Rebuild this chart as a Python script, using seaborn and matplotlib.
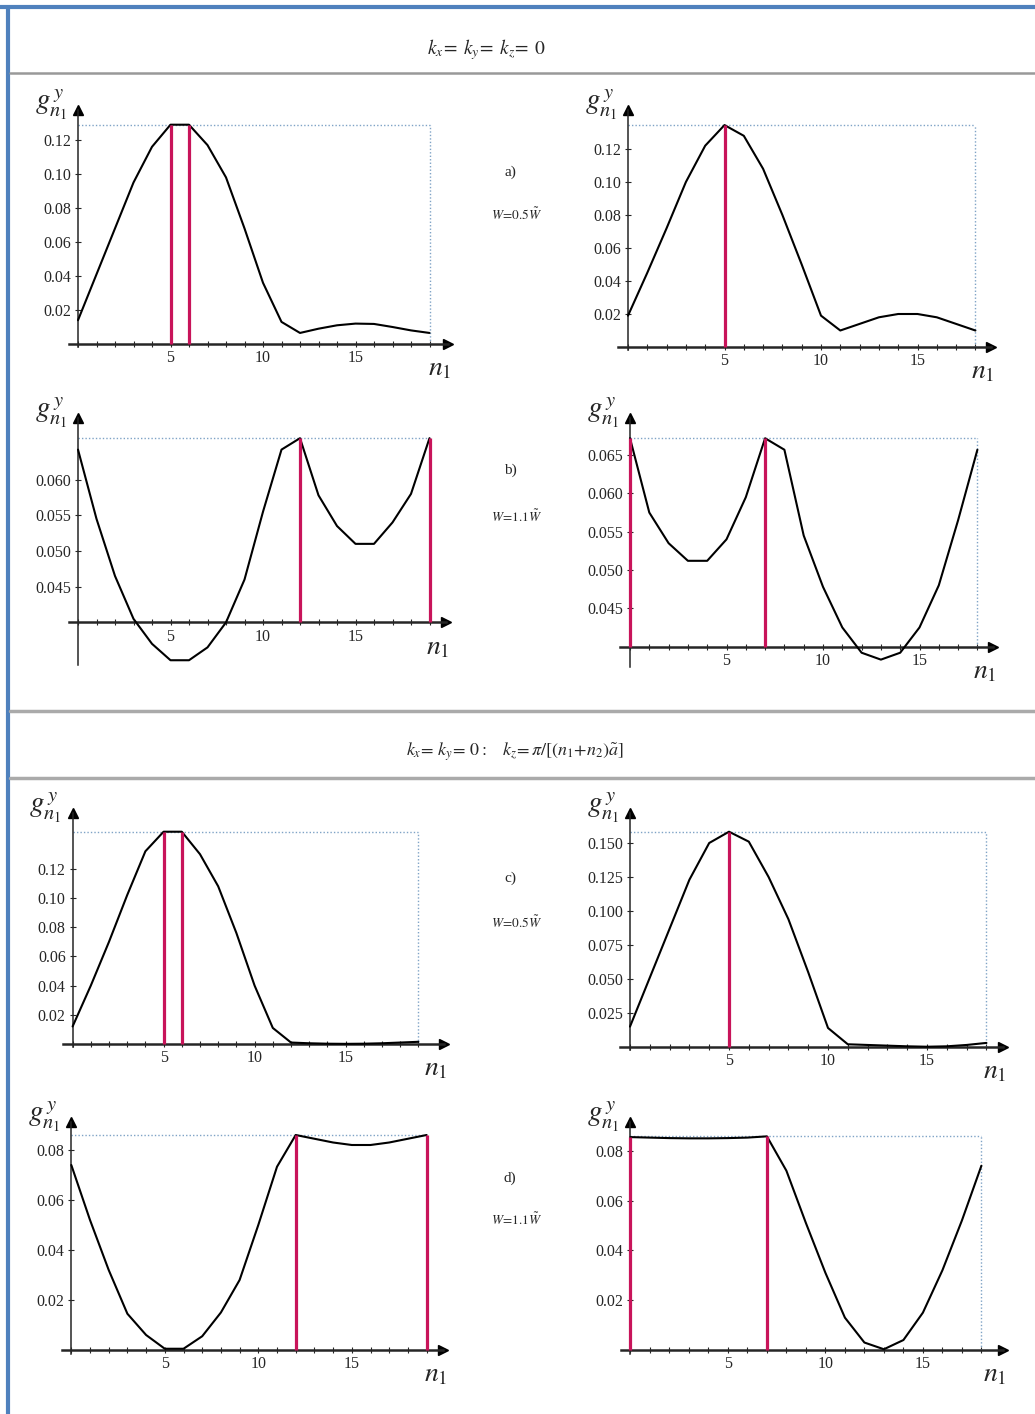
import numpy as np
import pandas as pd
import seaborn as sns
import matplotlib.pyplot as plt
from matplotlib.lines import Line2D

sns.set_style('white')
plt.rcParams['font.family'] = ['Liberation Serif', 'DejaVu Serif']
plt.rcParams['mathtext.fontset'] = 'stix'

W, H = 1035, 1414

# n_1 sites (left panels 0..19, right panels 0..18)
n_left = list(range(20))
n_right = list(range(19))

# k_x = k_y = k_z = 0
g_a_left = [0.014, 0.041, 0.068, 0.095, 0.116, 0.129, 0.129, 0.117, 0.098, 0.068,
            0.036, 0.013, 0.0065, 0.009, 0.011, 0.012, 0.0118, 0.010, 0.008, 0.0065]
g_a_right = [0.019, 0.045, 0.072, 0.100, 0.122, 0.1345, 0.128, 0.108, 0.080, 0.050,
             0.019, 0.010, 0.014, 0.018, 0.020, 0.020, 0.018, 0.014, 0.010]
g_b_left = [0.0642, 0.0545, 0.0465, 0.0405, 0.0370, 0.0347, 0.0347, 0.0365, 0.0400, 0.0460,
            0.0555, 0.0642, 0.0658, 0.0578, 0.0535, 0.0510, 0.0510, 0.0540, 0.0580, 0.0658]
g_b_right = [0.0672, 0.0575, 0.0535, 0.0512, 0.0512, 0.0540, 0.0595, 0.0672, 0.0657, 0.0545,
             0.0478, 0.0425, 0.0392, 0.0383, 0.0392, 0.0425, 0.0480, 0.0565, 0.0657]

# k_x = k_y = 0, k_z = pi/[(n1+n2)a]
g_c_left = [0.012, 0.040, 0.070, 0.102, 0.132, 0.1454, 0.1454, 0.130, 0.108, 0.076,
            0.040, 0.011, 0.001, 0.0005, 0.0002, 0.0001, 0.0002, 0.0005, 0.001, 0.0015]
g_c_right = [0.015, 0.051, 0.087, 0.123, 0.150, 0.1583, 0.151, 0.125, 0.094, 0.055,
             0.014, 0.002, 0.0015, 0.001, 0.0005, 0.0002, 0.0005, 0.0015, 0.003]
g_d_left = [0.074, 0.052, 0.032, 0.0145, 0.006, 0.0005, 0.0005, 0.0055, 0.015, 0.028,
            0.050, 0.0733, 0.086, 0.0845, 0.083, 0.082, 0.082, 0.083, 0.0845, 0.086]
g_d_right = [0.0855, 0.0853, 0.0851, 0.0850, 0.0850, 0.0851, 0.0853, 0.0858, 0.072, 0.051,
             0.031, 0.013, 0.003, 0.0003, 0.004, 0.015, 0.032, 0.052, 0.074]

# maxima marked in red
peaks_a_left, peaks_a_right = [5, 6], [5]
peaks_b_left, peaks_b_right = [12, 19], [0, 7]
peaks_c_left, peaks_c_right = [5, 6], [5]
peaks_d_left, peaks_d_right = [12, 19], [0, 7]

yt_a_left = [0.02, 0.04, 0.06, 0.08, 0.10, 0.12]
yt_a_right = [0.02, 0.04, 0.06, 0.08, 0.10, 0.12]
yt_b_left = [0.045, 0.050, 0.055, 0.060]
yt_b_right = [0.045, 0.050, 0.055, 0.060, 0.065]
yt_c_left = [0.02, 0.04, 0.06, 0.08, 0.10, 0.12]
yt_c_right = [0.025, 0.050, 0.075, 0.100, 0.125, 0.150]
yt_d_left = [0.02, 0.04, 0.06, 0.08]
yt_d_right = [0.02, 0.04, 0.06, 0.08]

fig = plt.figure(figsize=(W / 100, H / 100), dpi=100)
fig.patch.set_facecolor('white')

RED = '#c8145a'
DOT = '#7fa3c6'


def ftext(x, y, s, **kw):
    fig.text(x / W, 1 - y / H, s, **kw)


def hline(y, x1, x2, color, lw):
    fig.add_artist(Line2D([x1 / W, x2 / W], [1 - y / H, 1 - y / H], color=color, lw=lw))


def panel(n, g, peaks, yticks, fmt, x0, ux, xhi, ypx0, yv0, uy, ylo, yhi, base):
    xlo = -0.5
    left = x0 + xlo * ux
    right = x0 + xhi * ux
    top = ypx0 - (yhi - yv0) * uy
    bottom = ypx0 - (ylo - yv0) * uy
    ax = fig.add_axes([left / W, 1 - bottom / H, (right - left) / W, (bottom - top) / H])
    ax.patch.set_alpha(0)
    df = pd.DataFrame({'n': n, 'g': g})
    gmax = max(g)
    nlast = n[-1]
    ax.hlines(gmax, 0, nlast, colors=DOT, linestyles=(0, (1, 1.5)), lw=1)
    ax.vlines(nlast, base, gmax, colors=DOT, linestyles=(0, (1, 1.5)), lw=1)
    sns.lineplot(data=df, x='n', y='g', ax=ax, color='black', lw=1.5, zorder=3)
    ax.vlines(peaks, base, [g[p] for p in peaks], colors=RED, lw=2.3, zorder=4)
    ax.set_xlim(xlo, xhi)
    ax.set_ylim(ylo, yhi)
    ax.spines['left'].set_position(('data', 0))
    ax.spines['bottom'].set_position(('data', base))
    ax.spines['top'].set_visible(False)
    ax.spines['right'].set_visible(False)
    ax.spines['left'].set_linewidth(1.1)
    ax.spines['bottom'].set_linewidth(1.8)
    ax.set_xticks([5, 10, 15])
    ax.set_xticks(n, minor=True)
    ax.set_yticks(yticks)
    ax.set_yticklabels([fmt % v for v in yticks])
    ax.tick_params(axis='x', which='both', bottom=True, direction='inout',
                   length=5, width=0.8, labelsize=11.5, pad=2)
    ax.tick_params(axis='y', left=True, direction='inout', length=4, width=0.8,
                   labelsize=11.5, pad=3)
    ax.set_xlabel('')
    ax.set_ylabel('')
    # axis arrows
    ax.plot(1, base, '>k', ms=7, transform=ax.get_yaxis_transform(), clip_on=False)
    ax.plot(0, 1, '^k', ms=7, transform=ax.get_xaxis_transform(), clip_on=False)
    ax.annotate(r'$g^{\,y}_{n_1}$', xy=(0, 1), xycoords=('data', 'axes fraction'),
                xytext=(-11, 5), textcoords='offset pixels', ha='right', va='center',
                fontsize=21)
    ax.annotate(r'$n_1$', xy=(1, base), xycoords=('axes fraction', 'data'),
                xytext=(-8, -25), textcoords='offset pixels', ha='center', va='center',
                fontsize=20)
    return ax


panel(n_left, g_a_left, peaks_a_left, yt_a_left, '%.2f',
      78, 18.5, 20.0, 344, 0, 1700, -0.002, 0.1376, 0)
panel(n_right, g_a_right, peaks_a_right, yt_a_right, '%.2f',
      628, 19.3, 18.8, 347, 0, 1650, -0.002, 0.1436, 0)
panel(n_left, g_b_left, peaks_b_left, yt_b_left, '%.3f',
      78, 18.5, 19.9, 586.7, 0.045, 7140, 0.034, 0.0686, 0.040)
panel(n_right, g_b_right, peaks_b_right, yt_b_right, '%.3f',
      630, 19.3, 18.8, 608.3, 0.045, 7660, 0.0374, 0.0698, 0.040)
panel(n_left, g_c_left, peaks_c_left, yt_c_left, '%.2f',
      72.6, 18.2, 20.4, 1044, 0, 1460, -0.002, 0.158, 0)
panel(n_right, g_c_right, peaks_c_right, yt_c_right, '%.3f',
      630, 19.8, 18.85, 1047, 0, 1360, -0.002, 0.1718, 0)
panel(n_left, g_d_left, peaks_d_left, yt_d_left, '%.2f',
      71.3, 18.7, 19.9, 1350, 0, 2500, -0.0015, 0.0913, 0)
panel(n_right, g_d_right, peaks_d_right, yt_d_right, '%.2f',
      630.4, 19.5, 19.1, 1350, 0, 2490, -0.0015, 0.0917, 0)

# frame and separators
hline(7, 0, W, '#4f81bd', 3)
fig.add_artist(Line2D([8 / W, 8 / W], [0, 1 - 7 / H], color='#4f81bd', lw=3))
hline(73, 10, W, '#999999', 1.8)
hline(711, 10, W, '#aaaaaa', 2.5)
hline(778, 10, W, '#aaaaaa', 2.5)

ftext(487, 50, r'$k_x\!=\;k_y\!=\;k_z\!=\;\mathit{0}$', fontsize=14, ha='center', va='center')
ftext(515, 752, r'$k_x\!=\,k_y\!=\,\mathit{0}:\ \ \ k_z\!=\pi/[(n_1\!+\!n_2)\tilde{a}]$',
      fontsize=13, ha='center', va='center')

labels = ['a)', 'b)', 'c)', 'd)']
w_labels = [r'$W\!=\!0.5\tilde{W}$', r'$W\!=\!1.1\tilde{W}$',
            r'$W\!=\!0.5\tilde{W}$', r'$W\!=\!1.1\tilde{W}$']
label_y = [172, 470, 878, 1178]
w_y = [215, 517, 923, 1220]
for lab, wl, ly, wy in zip(labels, w_labels, label_y, w_y):
    ftext(510, ly, lab, fontsize=11, ha='center', va='center')
    ftext(517, wy, wl, fontsize=9.5, ha='center', va='center')

fig.savefig('out.png', dpi=100)
